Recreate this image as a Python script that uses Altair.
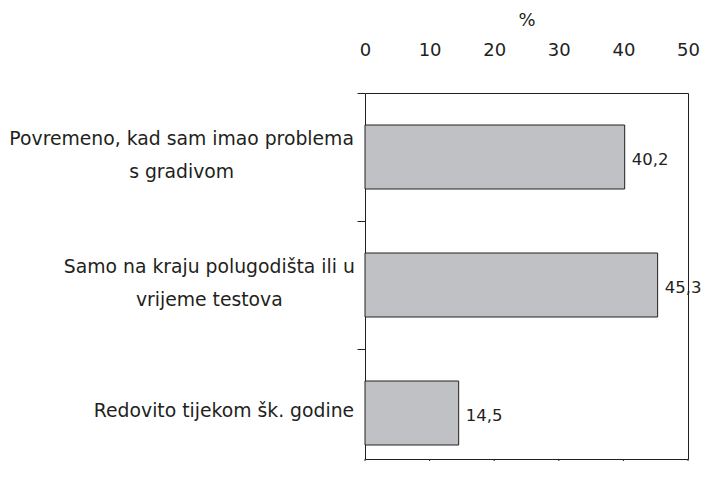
import altair as alt
import pandas as pd

# ---- data ----
categories = [
    "Povremeno, kad sam imao problema\ns gradivom",
    "Samo na kraju polugodišta ili u\nvrijeme testova",
    "Redovito tijekom šk. godine",
]
values = [40.2, 45.3, 14.5]
x_ticks = [0, 10, 20, 30, 40, 50]
axis_title = "%"

# ---- layout constants ----
W, H = 323, 366
STEP = 128                      # category step in px
N = len(categories)
P_INNER = 0.5
P_OUTER = (H / STEP - (N - P_INNER)) / 2
ALIGN = (STEP * P_INNER / 2) / (H - STEP * (N - P_INNER))
BAND = STEP * (1 - P_INNER)
FONT = "DejaVu Sans"
FS = 18
FS_VAL = 16.5
FS_CAT = 18.8
LINE_H = 33
TXT = "#231f20"
X_MAX = 50

# approximate advance widths (em) of DejaVu Sans, used to centre multi-line labels
_w = {' ': .318, ',': .318, '.': .318, 'a': .613, 'b': .635, 'c': .55, 'd': .635,
      'e': .615, 'g': .635, 'h': .634, 'i': .278, 'j': .278, 'k': .579, 'l': .278,
      'm': .974, 'n': .634, 'o': .612, 'p': .635, 'r': .411, 's': .521, 't': .392,
      'u': .634, 'v': .592, 'y': .592, 'z': .525, 'P': .603, 'S': .635, 'R': .695,
      'š': .521}


def text_width(s):
    return max(sum(_w.get(ch, .6) for ch in line) for line in s.split("\n")) * FS_CAT


df = pd.DataFrame({
    "cat": categories,
    "value": values,
    "vlabel": [f"{v:.1f}".replace(".", ",") for v in values],
})

rows = []
for c in categories:
    lines = c.split("\n")
    n = len(lines)
    lx = -(10 + text_width(c) / 2) * X_MAX / W
    for i, ln in enumerate(lines):
        rows.append({"cat": c, "line": ln, "lx": lx,
                     "off": BAND / 2 + (i - (n - 1) / 2) * LINE_H})
lab = pd.DataFrame(rows)

tick_df = pd.DataFrame({"t": x_ticks})

x_scale = alt.Scale(domain=[0, X_MAX], nice=False, zero=True)
y_scale = alt.Scale(domain=categories, paddingInner=P_INNER, paddingOuter=P_OUTER,
                    align=ALIGN)

bars = alt.Chart(df).mark_bar(color="#c0c1c5", stroke=TXT, strokeWidth=1).encode(
    x=alt.X("value:Q", scale=x_scale,
            axis=alt.Axis(orient="top", values=x_ticks, labels=True, labelFlush=False,
                          domain=False, ticks=False, grid=False,
                          labelFont=FONT, labelFontSize=FS, labelColor=TXT,
                          labelPadding=34, title=axis_title,
                          titleFont=FONT, titleFontSize=FS, titleFontWeight="normal",
                          titleColor=TXT, titlePadding=12)),
    y=alt.Y("cat:N", sort=categories, scale=y_scale,
            axis=alt.Axis(labels=False, domain=False, ticks=True, tickSize=8,
                          tickColor=TXT, bandPosition=-0.5, title=None)),
)

vals = alt.Chart(df).mark_text(align="left", baseline="middle", dx=7, dy=3,
                               font=FONT, fontSize=FS_VAL, color=TXT).encode(
    x=alt.X("value:Q"),
    y=alt.Y("cat:N", sort=categories),
    text="vlabel:N",
)

cats = alt.Chart(lab).mark_text(align="center", baseline="middle", dy=-2,
                                font=FONT, fontSize=FS_CAT, color=TXT).encode(
    x=alt.X("lx:Q"),
    y=alt.Y("cat:N", sort=categories),
    yOffset=alt.YOffset("off:Q", scale=None),
    text="line:N",
)

bottom_ticks = alt.Chart(tick_df).mark_rule(color=TXT, strokeWidth=1).encode(
    x=alt.X("t:Q"),
    y=alt.value(H),
    y2=alt.value(H + 6),
)

chart = alt.layer(bars, vals, cats, bottom_ticks).properties(
    width=W, height=H,
    autosize=alt.AutoSizeParams(type="none"),
    padding={"left": 357, "top": 85, "right": 14, "bottom": 2},
).configure_view(stroke=TXT, strokeWidth=1)

chart.save("out.html", embed_options={"renderer": "svg", "actions": False})
